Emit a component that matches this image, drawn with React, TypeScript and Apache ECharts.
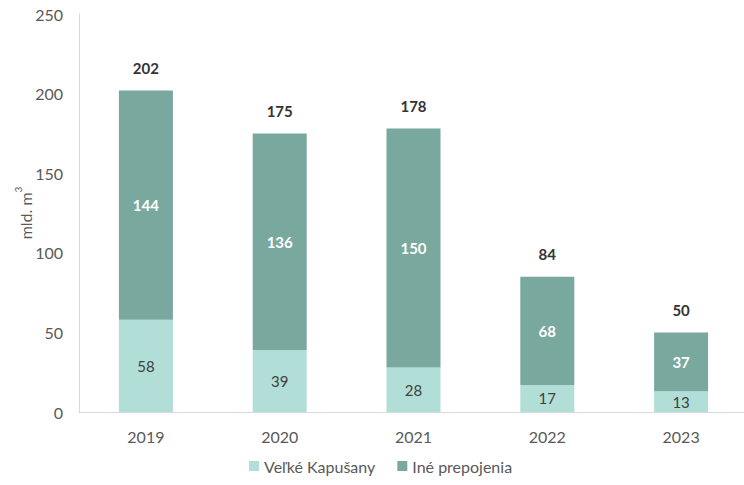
import React, { useEffect, useRef } from "react";
import * as echarts from "echarts";

const categories = ["2019", "2020", "2021", "2022", "2023"];
const velkeKapusany = [58, 39, 28, 17, 13];
const inePrepojenia = [144, 136, 150, 68, 37];
const totals = [202, 175, 178, 84, 50];
const yTicks = { min: 0, max: 250, interval: 50 };

const FONT = "Lato, 'Open Sans', sans-serif";

export default function App() {
  const ref = useRef<HTMLDivElement>(null);
  useEffect(() => {
    document.body.style.margin = "0";
    const chart = echarts.init(ref.current!, null, { renderer: "svg" });
    chart.setOption({
      animation: false,
      textStyle: { fontFamily: FONT },
      grid: { left: 79, top: 14, width: 669, height: 398, containLabel: false, outerBoundsMode: "none" },
      legend: {
        left: 244,
        top: 453,
        itemWidth: 10,
        itemHeight: 10,
        itemGap: 22,
        icon: "rect",
        textStyle: { fontSize: 16, color: "#595959", fontFamily: FONT },
        data: ["Veľké Kapušany", "Iné prepojenia"],
      },
      xAxis: {
        type: "category",
        data: categories,
        axisLine: { lineStyle: { color: "#d9d9d9", width: 1 } },
        axisTick: { show: false },
        axisLabel: { color: "#595959", fontSize: 16, margin: 16, fontFamily: FONT },
      },
      yAxis: {
        type: "value",
        min: yTicks.min,
        max: yTicks.max,
        interval: yTicks.interval,
        name: "{a|mld. m}{b|3}",
        nameLocation: "middle",
        nameGap: 46,
        nameMoveOverlap: false,
        nameTextStyle: {
          color: "#595959",
          fontSize: 16,
          fontFamily: FONT,
          rich: {
            a: { fontSize: 16, color: "#595959", fontFamily: FONT, lineHeight: 20, verticalAlign: "bottom" },
            b: { fontSize: 10, color: "#595959", fontFamily: FONT, lineHeight: 20, verticalAlign: "top" },
          },
        },
        axisLine: { show: true, lineStyle: { color: "#d9d9d9", width: 1 } },
        axisTick: { show: false },
        splitLine: { show: false },
        axisLabel: { color: "#595959", fontSize: 16, margin: 16, fontFamily: FONT },
      },
      series: [
        {
          name: "Veľké Kapušany",
          type: "bar",
          stack: "total",
          barWidth: 54,
          data: velkeKapusany,
          itemStyle: { color: "#b1ded7" },
          label: { show: true, position: "inside", color: "#404040", fontSize: 15, fontFamily: FONT },
        },
        {
          name: "Iné prepojenia",
          type: "bar",
          stack: "total",
          barWidth: 54,
          data: inePrepojenia,
          itemStyle: { color: "#79a89f" },
          label: { show: true, position: "inside", color: "#ffffff", fontSize: 15, fontWeight: "bold", fontFamily: FONT },
        },
        {
          name: "total",
          type: "bar",
          stack: "total",
          barWidth: 54,
          data: totals.map(() => 0),
          itemStyle: { color: "transparent" },
          label: {
            show: true,
            position: "top",
            distance: 15,
            color: "#333333",
            fontSize: 15,
            fontWeight: "bold",
            fontFamily: FONT,
            formatter: (p: any) => String(totals[p.dataIndex]),
          },
          tooltip: { show: false },
        },
      ],
    });
    return () => chart.dispose();
  }, []);
  return <div ref={ref} style={{ width: 744, height: 485 }} />;
}
